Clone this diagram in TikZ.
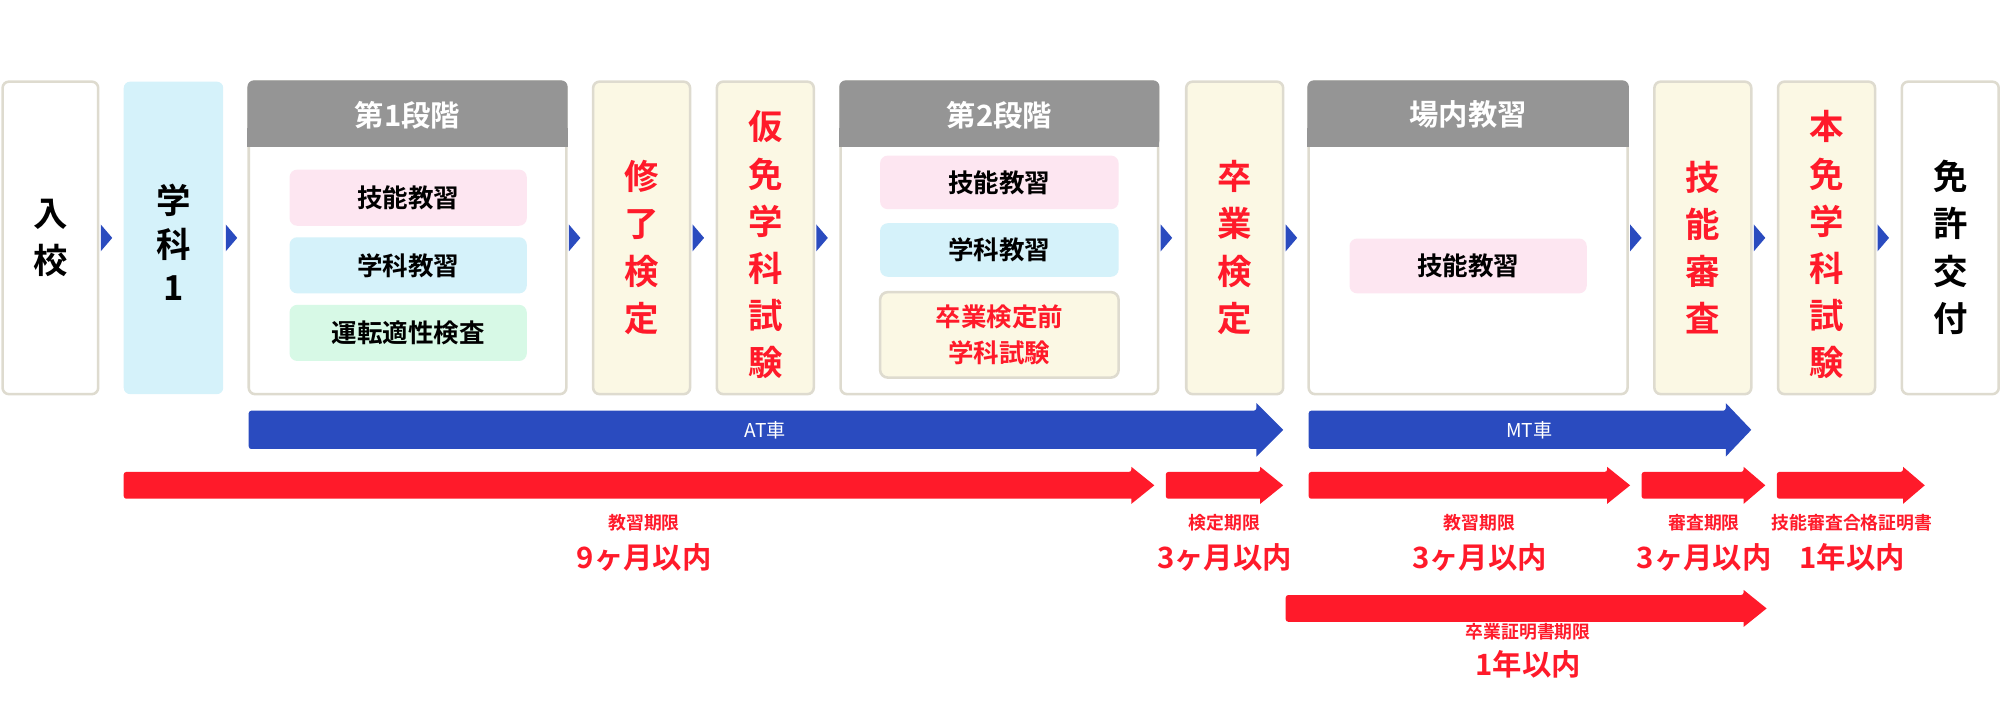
\documentclass[tikz,border=0pt]{standalone}
\usepackage{fontspec}
\setmainfont{Noto Sans CJK JP}[BoldFont={* Bold}]
\usetikzlibrary{calc}
\definecolor{bdr}{HTML}{DEDBCF}
\definecolor{cream}{HTML}{FBF8E4}
\definecolor{lblue}{HTML}{D5F2FA}
\definecolor{pink}{HTML}{FDE6F1}
\definecolor{lgreen}{HTML}{D7F9E6}
\definecolor{hgray}{HTML}{959595}
\definecolor{bblue}{HTML}{2A4BBF}
\definecolor{rred}{HTML}{FF1A2A}
\tikzset{
  col/.style={draw=bdr,line width=2pt,rounded corners=5pt},
  wcol/.style={col,fill=white},
  ccol/.style={col,fill=cream},
  bcol/.style={col,fill=lblue,draw=none},
  vt/.style={font=\bfseries\fontsize{27}{37}\selectfont,align=center,inner sep=0pt},
  sub/.style={rounded corners=6pt,font=\bfseries\fontsize{20}{26}\selectfont,align=center,inner sep=0pt},
  hdr/.style={font=\bfseries\fontsize{23}{26}\selectfont,text=white},
  tri/.style={fill=bblue},
  lab/.style={text=rred,font=\bfseries\fontsize{14}{15}\selectfont},
  big/.style={text=rred,font=\bfseries\fontsize{23}{24}\selectfont},
}
\begin{document}
\begin{tikzpicture}[x=1pt,y=-1pt]
\useasboundingbox (0,0) rectangle (1568,552);
% simple columns
\path[wcol] (2,64) rectangle (77,309);
\node[vt] (nyuko) at (39.5,186.5) {入\\校};
\path[bcol] (97,64) rectangle (175,309);
\node[vt,font=\bfseries\fontsize{27}{34}\selectfont] (gakka1) at (136,190) {学\\科\\1};
\path[ccol] (465,64) rectangle (541,309);
\node[vt,text=rred] (shuryo) at (503,194) {修\\了\\検\\定};
\path[ccol] (562,64) rectangle (638,309);
\node[vt,text=rred] (karimen) at (600,192) {仮\\免\\学\\科\\試\\験};
\path[ccol] (930,64) rectangle (1006,309);
\node[vt,text=rred] (sotsugyo) at (968,194) {卒\\業\\検\\定};
\path[ccol] (1297,64) rectangle (1373,309);
\node[vt,text=rred] (shinsa) at (1335,194) {技\\能\\審\\査};
\path[ccol] (1394,64) rectangle (1470,309);
\node[vt,text=rred] (honmen) at (1432,192) {本\\免\\学\\科\\試\\験};
\path[wcol] (1491,64) rectangle (1567,309);
\node[vt] (menkyo) at (1529,194) {免\\許\\交\\付};
% stage boxes
\foreach \a/\b/\t/\n in {195/444/第1段階/s1, 659/908/第2段階/s2, 1026/1276/場内教習/s3}{
  \path[wcol] (\a,64) rectangle (\b,309);
  \fill[hgray,rounded corners=5pt] (\a-1,115) -- (\a-1,63) -- (\b+1,63) -- (\b+1,115) [sharp corners] -- cycle;
  \fill[hgray] (\a-1,100) rectangle (\b+1,115);
  \node[hdr] (\n) at ({(\a+\b)/2},90) {\t};
}
% sub boxes
\path[sub,fill=pink] (227,133) rectangle (413,177);
\node[sub] (s1a) at (320,155) {技能教習};
\path[sub,fill=lblue] (227,186) rectangle (413,230);
\node[sub] (s1b) at (320,208) {学科教習};
\path[sub,fill=lgreen] (227,239) rectangle (413,283);
\node[sub] (s1c) at (320,261) {運転適性検査};
\path[sub,fill=pink] (690,122) rectangle (877,164);
\node[sub] (s2a) at (783.5,143) {技能教習};
\path[sub,fill=lblue] (690,175) rectangle (877,217);
\node[sub] (s2b) at (783.5,196) {学科教習};
\path[sub,fill=cream,draw=bdr,line width=2pt] (690,229) rectangle (877,296);
\node[sub,text=rred,font=\bfseries\fontsize{20}{28}\selectfont] (s2c) at (783.5,262.5) {卒業検定前\\学科試験};
\path[sub,fill=pink] (1058,187) rectangle (1244,230);
\node[sub] (s3a) at (1151,208.5) {技能教習};
% small triangles
\foreach \x in {79,177,446,543,640,910,1008,1278,1375,1472}{
  \fill[tri] (\x,176) -- (\x+9,186.5) -- (\x,197) -- cycle;
}
% blue arrows
\fill[bblue,rounded corners=2pt] (195,322) -- (985,322) [sharp corners] -- (985,316) -- (1006,337) -- (985,358) -- (985,352) [rounded corners=2pt] -- (195,352) -- cycle;
\node[white,font=\fontsize{15}{16}\selectfont] (at) at (600,337) {AT車};
\fill[bblue,rounded corners=2pt] (1026,322) -- (1353,322) [sharp corners] -- (1353,316) -- (1373,337) -- (1353,358) -- (1353,352) [rounded corners=2pt] -- (1026,352) -- cycle;
\node[white,font=\fontsize{15}{16}\selectfont] (mt) at (1199,337) {MT車};
% red arrows
\foreach \a/\t/\b/\y in {97/887/905/380.5, 914/988/1006/380.5, 1026/1260/1278/380.5, 1287/1367/1384/380.5, 1393/1492/1509/380.5, 1008/1367/1385/477}{
  \fill[rred,rounded corners=2pt] (\a,\y-10.5) -- (\t,\y-10.5) [sharp corners] -- (\t,\y-14.5) -- (\b,\y) -- (\t,\y+14.5) -- (\t,\y+10.5) [rounded corners=2pt] -- (\a,\y+10.5) -- cycle;
}
\node[lab] (l1) at (505,410) {教習期限};
\node[big] (v1) at (505,437) {9ヶ月以内};
\node[lab] (l2) at (960,410) {検定期限};
\node[big] (v2) at (960,437) {3ヶ月以内};
\node[lab] (l3) at (1160,410) {教習期限};
\node[big] (v3) at (1160,437) {3ヶ月以内};
\node[lab] (l4) at (1336,410) {審査期限};
\node[big] (v4) at (1336,437) {3ヶ月以内};
\node[lab] (l5) at (1452,410) {技能審査合格証明書};
\node[big] (v5) at (1452,437) {1年以内};
\node[lab] (l6) at (1198,495) {卒業証明書期限};
\node[big] (v6) at (1198,521) {1年以内};
\end{tikzpicture}
\end{document}
